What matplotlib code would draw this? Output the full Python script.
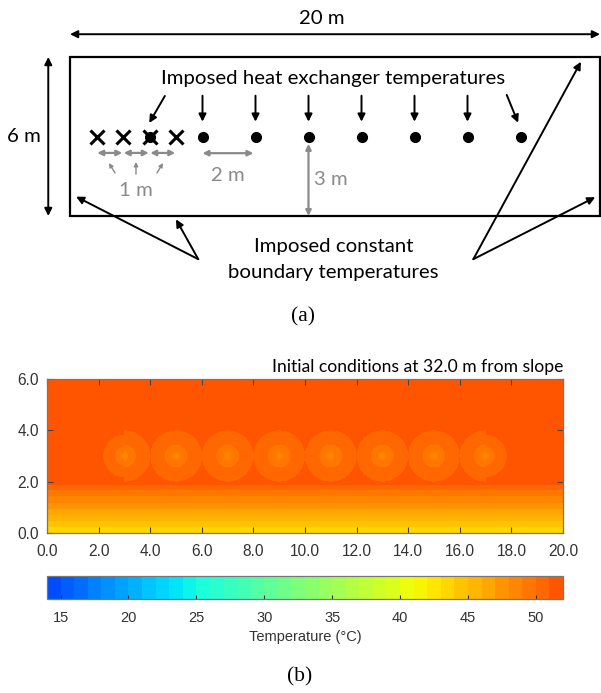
import numpy as np
import matplotlib
matplotlib.use("Agg")
import matplotlib.pyplot as plt
from matplotlib.colors import ListedColormap, BoundaryNorm
from matplotlib.patches import Rectangle

# ---------------- data ----------------
domain_width_m = 20
domain_height_m = 6
hx_depth_m = 3
cross_x = [1, 2, 3, 4]
dot_x = [3, 5, 7, 9, 11, 13, 15, 17]
down_arrow_x = [5, 7, 9, 11, 13, 15]

hx_x = [3, 5, 7, 9, 11, 13, 15, 17]
hx_y = 3.0
hx_radius_left = [0.82, 1.0, 1.0, 1.0, 1.0, 1.0, 1.0, 1.0]
hx_radius_right = [1.0, 1.0, 1.0, 1.0, 1.0, 1.0, 1.0, 0.82]
hx_core_temp = 46.0
hx_edge_temp = 50.9
ambient_temp = 51.5
base_temp_bottom = 43.0
base_temp_top = 50.9
base_layer_top = 1.87

cbar_min, cbar_max = 14, 52
cbar_ticks = [15, 20, 25, 30, 35, 40, 45, 50]
x_ticks = [0, 2, 4, 6, 8, 10, 12, 14, 16, 18, 20]
y_ticks = [0, 2, 4, 6]
title_text = "Initial conditions at 32.0 m from slope"
cbar_label = "Temperature (°C)"

# ---------------- figure ----------------
W, H = 601, 693
fig = plt.figure(figsize=(W / 100, H / 100), dpi=100)
fig.patch.set_facecolor("white")

# schematic axes (units: metres), 26.5 px per metre, origin at px (70, 216)
S = 26.5
ox, oy = 70, 216
sax = fig.add_axes([0, 0, 1, 1])
sax.set_xlim(-ox / S, (W - ox) / S)
sax.set_ylim((oy - H) / S, oy / S)
sax.axis("off")

sfont = "Lato"
sfs = 14.7
gray = "#8a8a8a"

sax.add_patch(Rectangle((0, 0), domain_width_m, domain_height_m, fill=False,
                        lw=1.6, ec="black"))

def arrow(ax, p0, p1, color="black", lw=1.4, style="-|>", ms=11):
    ax.annotate("", xy=p1, xytext=p0,
                arrowprops=dict(arrowstyle=style, color=color, lw=lw,
                                mutation_scale=ms, shrinkA=0, shrinkB=0))

# 20 m and 6 m dimensions
arrow(sax, (0.0, 6.86), (20.0, 6.86), style="<|-|>")
sax.text(9.5, 7.46, "20 m", ha="center", va="center", fontsize=sfs, family=sfont)
arrow(sax, (-0.82, 0.0), (-0.82, 6.0), style="<|-|>")
sax.text(-1.74, 3.0, "6 m", ha="center", va="center", fontsize=sfs, family=sfont)

# crosses and dots
sax.plot(cross_x, [hx_depth_m] * len(cross_x), "x", color="black",
         ms=10, mew=2.2, ls="none")
sax.plot(dot_x, [hx_depth_m] * len(dot_x), "o", color="black", ms=7, ls="none")

# heat exchanger arrows
sax.text(9.94, 5.20, "Imposed heat exchanger temperatures", ha="center",
         va="center", fontsize=sfs, family=sfont)
for x in down_arrow_x:
    arrow(sax, (x, 4.54), (x, 3.56))
arrow(sax, (3.58, 4.53), (2.99, 3.51))
arrow(sax, (16.48, 4.57), (16.91, 3.52))

# gray spacing arrows
for x in cross_x[:-1]:
    arrow(sax, (x + 0.03, 2.38), (x + 0.97, 2.38), color=gray, lw=1.6,
          style="<|-|>", ms=8)
arrow(sax, (5.0, 2.37), (6.92, 2.37), color=gray, lw=1.6, style="<|-|>", ms=8)
arrow(sax, (1.70, 1.62), (1.47, 2.0), color=gray, lw=1.0, ms=6)
arrow(sax, (2.49, 1.58), (2.49, 2.04), color=gray, lw=1.0, ms=6)
arrow(sax, (3.28, 1.62), (3.51, 2.0), color=gray, lw=1.0, ms=6)
arrow(sax, (9.0, 2.72), (9.0, 0.0), color=gray, lw=1.6, style="<|-|>", ms=8)
sax.text(2.49, 0.98, "1 m", ha="center", va="center", fontsize=sfs,
         family=sfont, color=gray)
sax.text(5.97, 1.51, "2 m", ha="center", va="center", fontsize=sfs,
         family=sfont, color=gray)
sax.text(9.85, 1.36, "3 m", ha="center", va="center", fontsize=sfs,
         family=sfont, color=gray)

# boundary arrows
arrow(sax, (4.84, -1.63), (0.23, 0.73))
arrow(sax, (4.84, -1.63), (4.0, -0.125))
arrow(sax, (15.22, -1.63), (19.28, 5.82))
arrow(sax, (15.22, -1.63), (19.82, 0.71))
sax.text(9.94, -1.16, "Imposed constant", ha="center", va="center",
         fontsize=sfs, family=sfont)
sax.text(9.92, -2.14, "boundary temperatures", ha="center", va="center",
         fontsize=sfs, family=sfont)

# panel labels
fig.text(302.7 / W, 1 - 316.7 / H, "(a)", ha="center", va="center",
         fontsize=15.5, family="Liberation Serif")
fig.text(300 / W, 1 - 677.3 / H, "(b)", ha="center", va="center",
         fontsize=15.5, family="Liberation Serif")

# ---------------- heat map ----------------
nx, ny = 1600, 480
xs = np.linspace(0, domain_width_m, nx)
ys = np.linspace(0, domain_height_m, ny)
X, Y = np.meshgrid(xs, ys)
T = np.where(Y >= base_layer_top, ambient_temp,
             base_temp_bottom + (base_temp_top - base_temp_bottom) * Y / base_layer_top)
for x0, rl, rr in zip(hx_x, hx_radius_left, hx_radius_right):
    R = np.where(X < x0, rl, rr)
    r = np.hypot(X - x0, Y - hx_y)
    prof = hx_core_temp + (hx_edge_temp - hx_core_temp) * (r / R) ** 0.25
    T = np.where(r < R, np.minimum(T, prof), T)

levels = np.arange(cbar_min, cbar_max + 1)
nb = len(levels) - 1
centers = (levels[:-1] + levels[1:]) / 2
cmap = ListedColormap(plt.cm.jet(0.375 + (centers - 25) / 60.0))
norm = BoundaryNorm(levels, nb)

hax = fig.add_axes([47 / W, 1 - 533 / H, 516 / W, 154 / H])
im = hax.imshow(T, origin="lower", extent=[0, domain_width_m, 0, domain_height_m],
                cmap=cmap, norm=norm, aspect="auto", interpolation="nearest")
hax.set_xlim(0, domain_width_m)
hax.set_ylim(0, domain_height_m)
hax.set_xticks(x_ticks)
hax.set_yticks(y_ticks)
hax.set_xticklabels([f"{v:.1f}" for v in x_ticks])
hax.set_yticklabels([f"{v:.1f}" for v in y_ticks])
hax.tick_params(direction="in", top=True, right=True, length=4, width=0.8,
                color="#444444", labelsize=11.2, labelcolor="#333333", pad=6)
hax.tick_params(axis="x", pad=8)
for lab in hax.get_xticklabels() + hax.get_yticklabels():
    lab.set_family("Liberation Sans")
for sp in hax.spines.values():
    sp.set_color("#777777")
    sp.set_linewidth(0.9)
hax.text(1.0, 1.08, title_text, transform=hax.transAxes, ha="right",
         va="center", fontsize=12.6, family="Lato", color="black")

# ---------------- colorbar ----------------
cax = fig.add_axes([47 / W, 1 - 599 / H, 516 / W, 23 / H])
cb = fig.colorbar(im, cax=cax, orientation="horizontal", ticks=cbar_ticks)
cb.outline.set_edgecolor("#777777")
cb.outline.set_linewidth(0.9)
cax.minorticks_off()
cax.tick_params(direction="in", length=3, width=0.8, color="#333333",
                labelsize=10.5, labelcolor="#333333", pad=9)
cax.set_xticklabels([str(v) for v in cbar_ticks])
for lab in cax.get_xticklabels():
    lab.set_family("Liberation Sans")
cb.set_label(cbar_label, fontsize=10.5, family="Liberation Sans",
             color="#333333", labelpad=3)

fig.savefig("out.png", dpi=100, facecolor="white")
